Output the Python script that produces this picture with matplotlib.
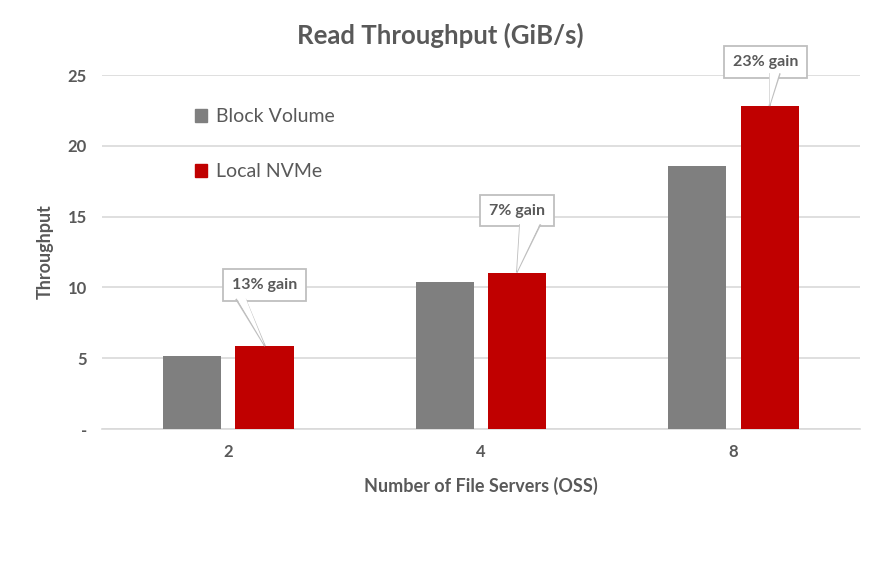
import numpy as np
import matplotlib
matplotlib.use('Agg')
import matplotlib.pyplot as plt
from matplotlib.patches import Patch, Polygon
from matplotlib.transforms import IdentityTransform

plt.rcParams['font.family'] = ['Lato', 'DejaVu Sans']

servers = ['2', '4', '8']
block_volume = [5.15, 10.35, 18.55]
local_nvme = [5.85, 11.05, 22.8]
gains = ['13% gain', '7% gain', '23% gain']
y_ticks = [0, 5, 10, 15, 20, 25]
y_tick_labels = ['-', '5', '10', '15', '20', '25']

grey = '#7f7f7f'
red = '#c00000'
txt = '#595959'
edge = '#bfbfbf'

fig = plt.figure(figsize=(8.8, 5.74), dpi=100)
ax = fig.add_axes([0.116, 0.2526, 0.861, 0.6167])

x = np.arange(len(servers))
w = 0.23
off = 0.143
ax.bar(x - off, block_volume, w, color=grey, zorder=3)
ax.bar(x + off, local_nvme, w, color=red, zorder=3)

ax.set_xlim(-0.5, 2.5)
ax.set_ylim(0, 25)
ax.set_yticks(y_ticks)
ax.set_yticklabels(y_tick_labels)
ax.set_xticks(x)
ax.set_xticklabels(servers)
ax.grid(axis='y', color='#d9d9d9', linewidth=1.2, zorder=0)
for s in ['top', 'right', 'left']:
    ax.spines[s].set_visible(False)
ax.spines['bottom'].set_color('#d9d9d9')
ax.spines['bottom'].set_linewidth(1.2)
ax.tick_params(axis='both', length=0, labelsize=12, labelcolor=txt, pad=11)
for lab in ax.get_xticklabels() + ax.get_yticklabels():
    lab.set_fontweight('bold')

ax.set_ylabel('Throughput', fontsize=13, fontweight='bold', color=txt, labelpad=10)
ax.set_xlabel('Number of File Servers (OSS)', fontsize=13, fontweight='bold', color=txt, labelpad=12)
fig.text(0.5, 0.938, 'Read Throughput (GiB/s)', ha='center', va='center',
         fontsize=18.5, fontweight='bold', color=txt)

# callouts: box centre offset from bar tip, pointer base span (pixels)
box_dy = [61, 62, 44]
box_dx = [0, 0, -4]
base_span = [(-28, -19), (3, 23), (0, 10)]
box_half_h = [15.5, 15.5, 13]
for i, g in enumerate(gains):
    tx, ty = ax.transData.transform((x[i] + off, local_nvme[i]))
    ty += 1
    ax.annotate(g, xy=(x[i] + off, local_nvme[i]), xytext=(box_dx[i], box_dy[i]),
                textcoords='offset pixels', ha='center', va='center',
                fontsize=11.5, fontweight='bold', color=txt,
                bbox=dict(boxstyle='square,pad=0.55', fc='white', ec=edge, lw=1.3),
                zorder=5)
    by = ty + box_dy[i] - box_half_h[i]
    b0, b1 = base_span[i]
    pts = [(tx + b0, by + 2), (tx, ty), (tx + b1, by + 2)]
    fig.patches.append(Polygon(pts, closed=True, fc='white', ec='none',
                               transform=IdentityTransform(), zorder=6))
    for bx in (b0, b1):
        fig.lines.append(plt.Line2D([tx + bx, tx], [by, ty], color=edge, lw=1.3,
                                    transform=IdentityTransform(), zorder=6))

handles = [Patch(color=grey, label='Block Volume'), Patch(color=red, label='Local NVMe')]
leg = ax.legend(handles=handles, loc='upper left', bbox_to_anchor=(0.1, 0.955),
                frameon=False, fontsize=14, labelspacing=1.95, handlelength=0.6,
                handleheight=0.6, handletextpad=0.45)
for t in leg.get_texts():
    t.set_color(txt)

fig.savefig('out.png', dpi=100)
